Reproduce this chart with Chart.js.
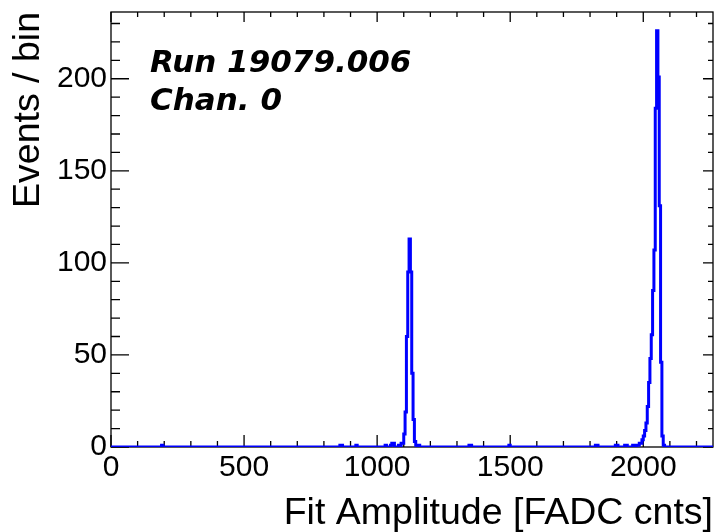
<!DOCTYPE html>
<html>
<head>
<meta charset="utf-8">
<script src="https://cdn.jsdelivr.net/npm/chart.js@4.4.1/dist/chart.umd.min.js"></script>
<style>
  html, body { margin: 0; padding: 0; background: #fff; }
  #wrap { width: 718px; height: 532px; }
</style>
</head>
<body>
<div id="wrap"><canvas id="histo" width="718" height="532"></canvas></div>
<script>
const xMin = 0;
const xMax = 2262;
const yMax = 236.25;
const binWidth = 5;

// non-empty bins: lower edge [FADC cnts] and content [events]
const binLow = [
  195, 865, 870, 925, 1035, 1055, 1060, 1065, 1085,
  1095, 1100, 1105, 1110, 1115, 1120, 1125, 1130, 1135, 1140, 1145, 1150,
  1160, 1350, 1355, 1500, 1825, 1830, 1900, 1905, 1935, 1940, 1965,
  1980, 1985, 1990, 1995, 2000, 2005, 2010, 2015, 2020, 2025, 2030, 2035,
  2040, 2045, 2050, 2055, 2060, 2065, 2070, 2075, 2080
];
const binCount = [
  1, 1, 1, 1, 1, 1, 2, 2, 1,
  2, 2, 7, 19, 60, 95, 113, 95, 40, 15, 3, 1,
  1, 1, 1, 1, 1, 1, 1, 1, 1, 1, 1,
  1, 1, 2, 2, 4, 6, 9, 13, 22, 35, 48, 61,
  85, 107, 184, 226, 201, 131, 46, 6, 1
];

const xTicks = [0, 500, 1000, 1500, 2000];
const yTicks = [0, 50, 100, 150, 200];
const xMinorStep = 100;
const yMinorStep = 10;

const xTitle = "Fit Amplitude [FADC cnts]";
const yTitle = "Events / bin";
const infoLines = ["Run 19079.006", "Chan. 0"];

// full histogram: every bin from xMin, empty ones at 0
const points = [];
for (let lo = xMin; lo < xMax; lo += binWidth) {
  const i = binLow.indexOf(lo);
  points.push({ x: lo, y: i >= 0 ? binCount[i] : 0 });
}
points.push({ x: xMax, y: 0 });

const axisFont = { family: "Liberation Sans", size: 30, lineHeight: 1.2 };
const titleFont = { family: "Liberation Sans", size: 37.5, lineHeight: 1 };

// ROOT style frame with inward ticks on all four sides
const frameTicks = {
  id: "frameTicks",
  beforeDatasetsDraw(chart) {
    const { ctx, chartArea: a, scales: { x, y } } = chart;
    ctx.save();
    ctx.strokeStyle = "#000";
    ctx.lineWidth = 1.3;
    ctx.strokeRect(a.left, a.top, a.right - a.left, a.bottom - a.top);
    ctx.beginPath();
    for (let v = xMin; v <= xMax; v += xMinorStep) {
      const px = x.getPixelForValue(v);
      const major = xTicks.includes(v);
      ctx.moveTo(px, a.bottom);
      ctx.lineTo(px, a.bottom - (major ? 12 : 6));
      ctx.moveTo(px, a.top);
      ctx.lineTo(px, a.top + (major ? 10 : 5));
    }
    for (let v = 0; v <= yMax; v += yMinorStep) {
      const py = y.getPixelForValue(v);
      const major = yTicks.includes(v);
      ctx.moveTo(a.left, py);
      ctx.lineTo(a.left + (major ? 18 : 9), py);
      ctx.moveTo(a.right, py);
      ctx.lineTo(a.right - (major ? 10 : 5), py);
    }
    ctx.stroke();
    ctx.restore();
  }
};

const runInfo = {
  id: "runInfo",
  afterDraw(chart) {
    const { ctx, chartArea: a } = chart;
    ctx.save();
    ctx.fillStyle = "#000";
    ctx.font = "italic bold 31px 'DejaVu Sans'";
    ctx.textBaseline = "alphabetic";
    infoLines.forEach((t, i) => {
      ctx.fillText(t, a.left + 39, a.top + 60 + i * 38);
    });
    ctx.restore();
  }
};

const ctx = document.getElementById("histo").getContext("2d");
new Chart(ctx, {
  type: "line",
  data: {
    datasets: [
      {
        data: points,
        borderColor: "#0000ff",
        borderWidth: 3,
        stepped: "after",
        pointRadius: 0,
        fill: false,
      },
    ],
  },
  options: {
    responsive: false,
    animation: false,
    layout: { padding: { top: 12, right: 5, left: 0, bottom: 0 } },
    plugins: {
      legend: { display: false },
      tooltip: { enabled: false },
    },
    scales: {
      x: {
        type: "linear",
        min: xMin,
        max: xMax,
        grid: { display: false, drawTicks: false },
        border: { display: false },
        afterBuildTicks: (s) => { s.ticks = xTicks.map((v) => ({ value: v })); },
        ticks: { font: axisFont, color: "#000", padding: 3, maxRotation: 0, autoSkip: false, callback: (v) => String(v) },
        title: { display: true, text: xTitle, align: "end", font: titleFont, color: "#000", padding: { top: 0, bottom: 0 } },
        afterFit: (s) => { s.height = 85; s.paddingLeft = 0; s.paddingRight = 0; },
      },
      y: {
        min: 0,
        max: yMax,
        grid: { display: false, drawTicks: false },
        border: { display: false },
        afterBuildTicks: (s) => { s.ticks = yTicks.map((v) => ({ value: v })); },
        ticks: { font: axisFont, color: "#000", padding: 4, callback: (v) => String(v) },
        title: { display: true, text: yTitle, align: "end", font: titleFont, color: "#000", padding: { top: 10, bottom: 0 } },
        afterFit: (s) => { s.width = 111; s.paddingTop = 0; s.paddingBottom = 0; },
      },
    },
  },
  plugins: [frameTicks, runInfo],
});
</script>
</body>
</html>
